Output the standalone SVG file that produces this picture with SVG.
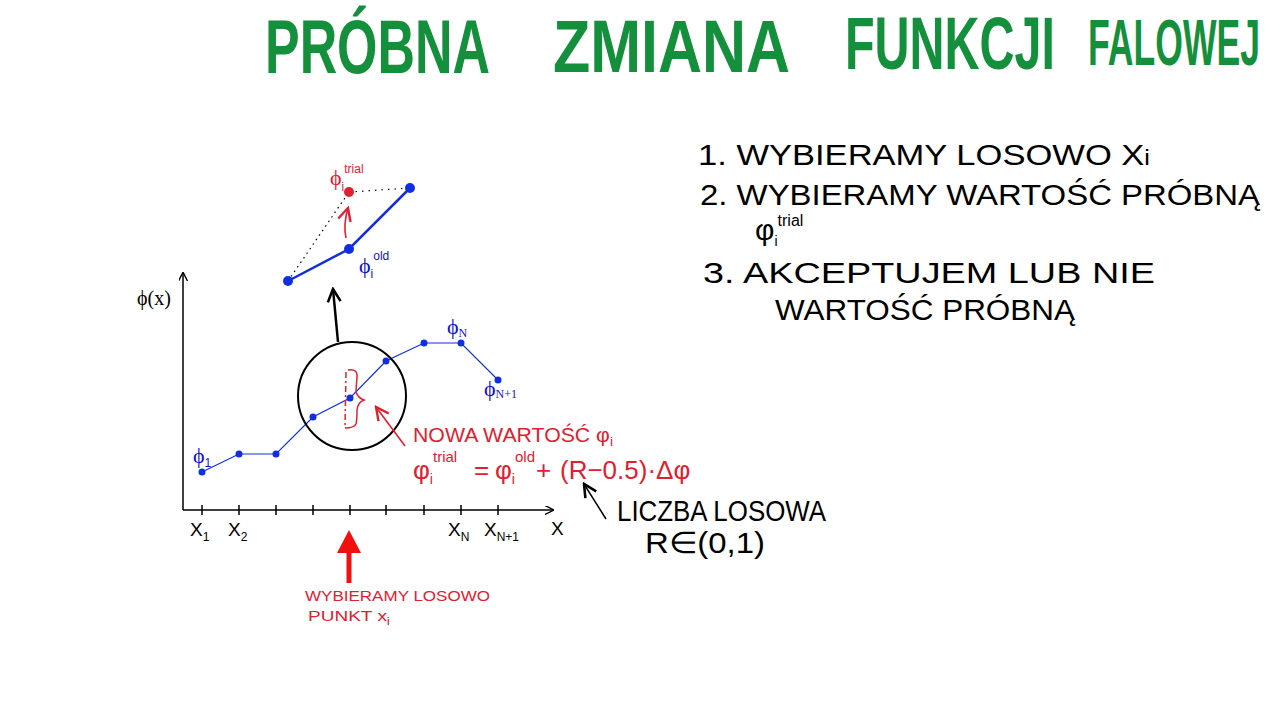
<svg xmlns="http://www.w3.org/2000/svg" width="1280" height="720" viewBox="0 0 1280 720">
<style>
.title{font-family:"Liberation Sans",sans-serif;font-weight:bold;fill:#14903c}
.hand{font-family:"Liberation Sans",sans-serif;font-size:30px;fill:#000}
.red{font-family:"Liberation Sans",sans-serif;fill:#e02030}
.lbl{font-family:"Liberation Sans",sans-serif;font-size:19px;fill:#000}
.sub{font-size:12px}
.phi{font-family:"Liberation Serif",serif;font-size:22px;fill:#1010d0}
.blue-thin{stroke:#1030e0;stroke-width:1.2;fill:none}
.blue-thick{stroke:#1030e0;stroke-width:2.5;fill:none}
.dot{fill:#1030e0}
</style>
<defs>
<marker id="ah" viewBox="0 0 10 10" refX="9" refY="5" markerWidth="9" markerHeight="9" orient="auto" markerUnits="userSpaceOnUse"><path d="M0,0 L10,5 L0,10" fill="none" stroke="#000" stroke-width="1.5"/></marker>
<marker id="ahb" viewBox="0 0 10 10" refX="9" refY="5" markerWidth="16" markerHeight="16" orient="auto" markerUnits="userSpaceOnUse"><path d="M1,1 L9,5 L1,9" fill="none" stroke="#000" stroke-width="1.6"/></marker>
<marker id="ahr" viewBox="0 0 10 10" refX="9" refY="5" markerWidth="16" markerHeight="16" orient="auto" markerUnits="userSpaceOnUse"><path d="M1,1 L9,5 L1,9" fill="none" stroke="#e02030" stroke-width="1.5"/></marker>
</defs>
<rect width="1280" height="720" fill="#fff"/>

<g id="title">
<text class="title" transform="translate(265,73) scale(1,1.45)" font-size="52" textLength="225" lengthAdjust="spacingAndGlyphs">PRÓBNA</text>
<text class="title" transform="translate(553,72) scale(1,1.2)" font-size="61" textLength="237" lengthAdjust="spacingAndGlyphs">ZMIANA</text>
<text class="title" transform="translate(845,69) scale(1,1.55)" font-size="48" textLength="210" lengthAdjust="spacingAndGlyphs">FUNKCJI</text>
<text class="title" transform="translate(1088,65) scale(1,1.85)" font-size="35" textLength="172" lengthAdjust="spacingAndGlyphs">FALOWEJ</text>
</g>

<g id="steps">
<text class="hand" x="698" y="165" textLength="452" lengthAdjust="spacingAndGlyphs">1. WYBIERAMY LOSOWO X<tspan font-size="22" dy="0">i</tspan></text>
<text class="hand" x="700" y="205" textLength="560" lengthAdjust="spacingAndGlyphs">2. WYBIERAMY WARTOŚĆ PRÓBNĄ</text>
<text class="hand" x="755" y="240" font-size="26">φ<tspan font-size="14" dy="6">i</tspan><tspan font-size="16" dy="-20">trial</tspan></text>
<text class="hand" x="703" y="283" textLength="452" lengthAdjust="spacingAndGlyphs">3. AKCEPTUJEM LUB NIE</text>
<text class="hand" x="775" y="320" textLength="300" lengthAdjust="spacingAndGlyphs">WARTOŚĆ PRÓBNĄ</text>
</g>

<g id="axes">
<line x1="183" y1="510" x2="183" y2="273" stroke="#000" stroke-width="1.5" marker-end="url(#ah)"/>
<line x1="183" y1="510" x2="553" y2="510" stroke="#000" stroke-width="1.5" marker-end="url(#ah)"/>
<g stroke="#000" stroke-width="1.5">
<line x1="202" y1="505" x2="202" y2="515"/><line x1="239" y1="505" x2="239" y2="515"/>
<line x1="276" y1="505" x2="276" y2="515"/><line x1="313" y1="505" x2="313" y2="515"/>
<line x1="350" y1="505" x2="350" y2="515"/><line x1="386" y1="505" x2="386" y2="515"/>
<line x1="424" y1="505" x2="424" y2="515"/><line x1="461" y1="505" x2="461" y2="515"/>
<line x1="498" y1="505" x2="498" y2="515"/>
</g>
<text x="137" y="305" font-family="Liberation Serif,serif" font-size="20" fill="#000">ϕ(x)</text>
<text class="lbl" x="190" y="536">X<tspan class="sub" dy="5">1</tspan></text>
<text class="lbl" x="228" y="536">X<tspan class="sub" dy="5">2</tspan></text>
<text class="lbl" x="448" y="536">X<tspan class="sub" dy="5">N</tspan></text>
<text class="lbl" x="484" y="536">X<tspan class="sub" dy="5">N+1</tspan></text>
<text class="lbl" x="551" y="535" font-size="24">X</text>
</g>

<g id="curve">
<polyline class="blue-thin" points="202,472 239,454 276,454 313,417 350,398 386,361 424,343 461,343 498,380"/>
<g class="dot">
<circle cx="202" cy="472" r="3.5"/><circle cx="239" cy="454" r="3.5"/><circle cx="276" cy="454" r="3.5"/>
<circle cx="313" cy="417" r="3.5"/><circle cx="350" cy="398" r="3.5"/><circle cx="386" cy="361" r="3.5"/>
<circle cx="424" cy="343" r="3.5"/><circle cx="461" cy="343" r="3.5"/><circle cx="498" cy="380" r="3.5"/>
</g>
<text class="phi" x="193" y="463">ϕ<tspan font-size="12" font-family="Liberation Sans,sans-serif" dy="4">1</tspan></text>
<text class="phi" x="447" y="334">ϕ<tspan font-size="12" font-family="Liberation Serif,serif" dy="3">N</tspan></text>
<text class="phi" x="484" y="396">ϕ<tspan font-size="12" font-family="Liberation Serif,serif" dy="2">N+1</tspan></text>
</g>

<g id="zoom-circle">
<circle cx="352" cy="396" r="54" fill="none" stroke="#000" stroke-width="2"/>
<line x1="346" y1="372" x2="345" y2="427" stroke="#e02030" stroke-width="1.5" stroke-dasharray="6,3,2,3"/>
<path d="M348,370 Q358,368 357,378 Q356,388 356,392 Q358,398 364,400 Q358,402 357,410 Q357,420 356,424 Q354,428 345,428" fill="none" stroke="#e02030" stroke-width="1.5"/>
</g>

<g id="inset">
<polyline class="blue-thick" points="288,281 349,249 410,188"/>
<line x1="288" y1="281" x2="349" y2="192" stroke="#000" stroke-width="1.2" stroke-dasharray="1.5,4"/>
<line x1="349" y1="192" x2="410" y2="188" stroke="#000" stroke-width="1.2" stroke-dasharray="1.5,5"/>
<circle cx="288" cy="281" r="5" class="dot"/>
<circle cx="349" cy="249" r="5" class="dot"/>
<circle cx="410" cy="188" r="5" class="dot"/>
<circle cx="349" cy="192" r="5" fill="#e02030"/>
<text x="330" y="185" font-family="Liberation Serif,serif" font-size="22" fill="#e02030">ϕ<tspan font-family="Liberation Sans,sans-serif" font-size="12" dy="6">i</tspan><tspan font-family="Liberation Sans,sans-serif" font-size="12" dy="-18">trial</tspan></text>
<text x="359" y="273" font-family="Liberation Serif,serif" font-size="22" fill="#1010d0">ϕ<tspan font-family="Liberation Sans,sans-serif" font-size="12" dy="5">i</tspan><tspan font-family="Liberation Sans,sans-serif" font-size="12" dy="-18">old</tspan></text>
</g>

<g id="connectors">
<line x1="338" y1="342" x2="333" y2="289" stroke="#000" stroke-width="2.5" marker-end="url(#ahb)"/>
<path d="M346,238 Q343,225 348,208" fill="none" stroke="#e02030" stroke-width="1.6" marker-end="url(#ahr)"/>
<line x1="405" y1="446" x2="376" y2="407" stroke="#e02030" stroke-width="1.6" marker-end="url(#ahr)"/>
<line x1="606" y1="519" x2="584" y2="484" stroke="#000" stroke-width="1.5" marker-end="url(#ahb)"/>
<line x1="349" y1="583" x2="349" y2="550" stroke="#f01010" stroke-width="5"/>
<polygon points="337,553 361,553 349,530" fill="#f01010"/>
</g>

<g id="red-notes">
<text class="red" x="413" y="442" font-size="20" textLength="200" lengthAdjust="spacingAndGlyphs">NOWA WARTOŚĆ φ<tspan font-size="13" dy="4">i</tspan></text>
<text class="red" x="413" y="479" font-size="26">φ<tspan font-size="14" dy="5">i</tspan><tspan font-size="15" dy="-22">trial</tspan><tspan dy="17" x="474">=</tspan><tspan x="495">φ</tspan><tspan font-size="14" dy="5">i</tspan><tspan font-size="15" dy="-22">old</tspan><tspan dy="17" x="536">+</tspan><tspan x="560">(R−0.5)·Δφ</tspan></text>
<text class="red" x="305" y="601" font-size="15" textLength="185" lengthAdjust="spacingAndGlyphs">WYBIERAMY LOSOWO</text>
<text class="red" x="308" y="621" font-size="15" textLength="82" lengthAdjust="spacingAndGlyphs">PUNKT x<tspan font-size="11" dy="4">i</tspan></text>
</g>

<g id="random-note">
<text class="hand" x="617" y="521" font-size="24" textLength="209" lengthAdjust="spacingAndGlyphs">LICZBA LOSOWA</text>
<text class="hand" x="645" y="553" font-size="28" textLength="120" lengthAdjust="spacingAndGlyphs">R∈(0,1)</text>
</g>
</svg>
